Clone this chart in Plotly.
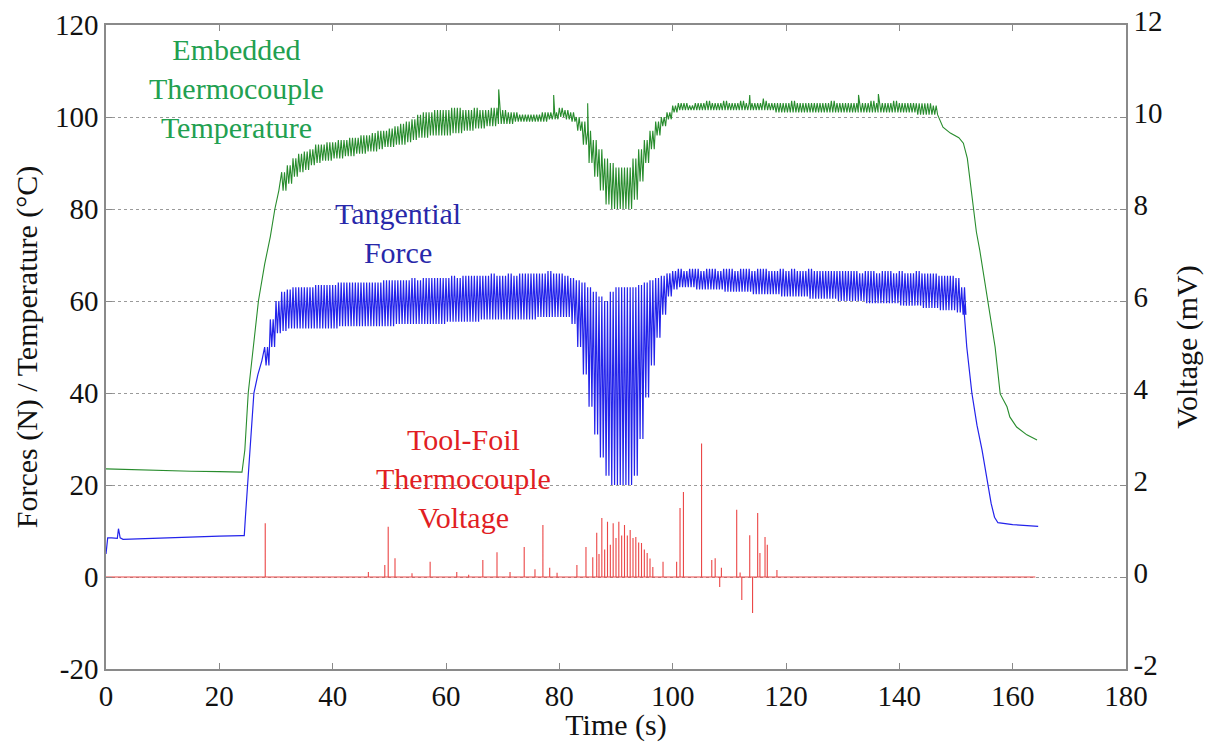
import plotly.graph_objects as go

# ---------------- data ----------------
# Tangential force (N): pre-ramp, oscillating section (per-second envelopes), ramp-down
force_pre_t = [0, 0.3, 1, 2, 2.2, 2.5, 3, 5, 10, 15, 20, 24, 24.4, 24.6, 25.0, 25.5, 26.1, 26.8, 27.5]
force_pre_v = [5, 8.5, 8.5, 8.4, 10.5, 8.5, 8.2, 8.3, 8.5, 8.7, 8.9, 9.0, 9.0, 13, 20, 30, 40, 44, 47]

force_osc_t = list(range(28, 152))
force_hi = [50, 56, 60, 62, 62.5, 63, 63, 63, 63, 63.5, 63.5, 63.5, 63.5,
            64, 64, 64, 64, 64, 64, 64, 64, 64.5, 64.5, 64.5, 64.5, 64.5, 65, 64.5, 65, 65, 65, 65, 65,
            65.5, 65, 65.5, 65.5, 65.5, 65.5, 65.5, 66, 65.5, 65.5, 66, 65.5, 66, 66, 66, 66, 66, 66.5,
            66, 66, 65.5, 65, 64.5, 64, 63, 62, 61, 60, 62, 63, 63, 63, 63, 63.5, 64, 64.5, 65, 65.5, 66,
            66.5, 67, 66.5, 67, 67, 66.5, 67, 67, 66.5, 67, 67, 66.5, 67, 67, 66.5, 67, 67, 66.5, 66.5,
            67, 66.5, 67, 66.5, 66.5, 67, 66.5, 66.5, 66.5, 66.5, 66.5, 66.5, 66.5, 66.5, 66, 66.5, 66.5,
            66, 66.5, 66.5, 66, 66.5, 66, 66, 66.5, 66, 66, 66, 65.5, 65.5, 65.5, 65, 63]
force_lo = [46, 50, 53, 53.5, 54, 54, 54, 54, 54, 54, 54, 54, 54,
            54.5, 54.5, 54.5, 54.5, 54.5, 54.5, 54.5, 54.5, 54.5, 54.5, 55, 55, 55, 55, 55, 55, 55, 55, 55,
            55.5, 55.5, 55.5, 55.5, 55.5, 55.5, 56, 56, 56, 56, 56, 56, 56, 56, 56, 56, 56.5, 56.5, 56.5,
            56.5, 56.5, 56.5, 55, 50, 44, 37, 31, 26, 22, 20, 20, 20, 20, 22, 30, 39, 46, 52, 57, 61,
            62.5, 63, 63, 63, 62.5, 62.5, 62.5, 62.5, 62.5, 62, 62, 62, 62, 62, 61.5, 61.5, 61.5, 61.5,
            61.5, 61, 61, 61, 61, 61, 60.5, 60.5, 60.5, 60.5, 60.5, 60, 60, 60, 60, 60, 59.5, 59.5, 59.5,
            59.5, 59.5, 59.5, 59, 59, 59, 59, 58.5, 58.5, 58.5, 58, 58, 58, 57.5, 57]

force_post_t = [151.3, 151.9, 152.8, 153.7, 154.6, 155.5, 156.2, 156.8, 157.4, 160, 164.5]
force_post_v = [60, 50, 40, 33, 27.6, 21, 16, 13, 11.8, 11.4, 11]

# Embedded thermocouple temperature (deg C)
temp_pre_t = [0, 5, 10, 15, 20, 24, 24.5, 25.1, 26, 26.9, 28, 29, 29.8, 30.5]
temp_pre_v = [23.5, 23.3, 23.2, 23.0, 22.9, 22.8, 27.6, 40, 50, 60, 68, 74, 80, 84]

temp_osc_t = list(range(31, 147))
temp_hi = [88, 89.5, 91, 92, 92.5, 93, 94, 94, 94.5, 94.5, 95, 95, 95.5, 95.5, 96, 96, 96.5, 97, 97,
           97.5, 98, 98.5, 99, 99.5, 100.5, 101, 101, 101.5, 101.5, 101.5, 102, 102, 101.5, 101.5, 102,
           101.5, 101.5, 102, 102, 101.5, 101, 101, 100.5, 100.5, 100.5, 100.5, 101, 101, 101, 102, 101.5,
           101, 100, 99, 97, 95, 93, 91, 90, 89, 89, 89, 91, 93, 95, 97, 99, 100, 101,
           102.5, 103, 103, 102.5, 103, 103, 103.5, 103, 103, 103.5, 103, 103, 103.5, 103, 103, 103, 103.5,
           103, 103, 103, 103, 103.5, 103, 103, 103, 103, 103, 103, 103.5, 103, 103, 103, 103, 103, 103,
           103.5, 103, 103, 103, 103.5, 103, 103, 103, 103, 103, 103, 102.5]
temp_lo = [84, 85.5, 87, 88, 88.5, 89.5, 90, 90.5, 90.5, 91, 91, 91.5, 91.5, 92, 92, 92.5, 92.5, 93, 93.5,
           93.5, 94, 94, 94.5, 95, 95.5, 95.5, 96, 96, 96, 96, 96.5, 96.5, 97, 97, 97.5, 97.5, 98, 98, 98.5,
           98.5, 98.5, 99, 99, 99, 99, 99, 99, 99.5, 99.5, 100, 99.5,
           99, 97, 94, 90, 87, 84, 81, 80, 80, 80, 80, 82, 86, 90, 93, 96, 98, 99.5,
           101, 101.5, 101.5, 101.5, 101.5, 101.5, 101.5, 101.5, 101.5, 101.5, 101.5, 101.5, 101.5, 101.5,
           101.5, 101.5, 101.5, 101.5, 101, 101, 101, 101, 101, 101, 101, 101, 101, 101, 101, 101, 101, 101,
           101, 101, 101, 101, 101, 101, 101, 101, 101, 101, 101, 100.5, 100.5, 100.5, 100.5]
temp_spike_t = [69.3, 79.0, 85.0, 113.6, 116.0, 132.8, 136.3]
temp_spike_v = [106, 104.8, 103, 104.8, 104, 104.8, 105]

temp_post_t = [147.7, 149, 150.5, 151.3, 152, 152.5, 153, 153.6, 154.2, 155, 155.7, 156.3, 156.9,
               157.8, 159, 159.5, 160.7, 162.5, 164.3]
temp_post_v = [97.8, 96.5, 95.5, 94.3, 91, 86, 80.2, 75, 71, 65, 59.6, 55, 50,
               39.8, 37, 34.8, 32.6, 30.9, 29.8]

# Tool-foil thermocouple voltage (mV): spikes on a zero baseline
volt_spike_t = [28.1, 46.3, 49.2, 49.8, 51.0, 54, 57.2, 61.9, 64, 66.5, 69.0, 71.3, 73.8, 75.7, 77.1,
                78.3, 79.6, 83.1, 84.7, 85.9, 86.6, 87.0, 87.5, 88.0, 88.5, 89.0, 89.5, 90.0, 90.5,
                91.0, 91.5, 92.0, 92.5, 93.0, 93.5, 94.0, 94.5, 95.0, 95.5, 96.0, 96.5, 98.3, 100.7,
                101.3, 101.9, 105.1, 106.9, 107.5, 108.3, 108.6, 111.3, 111.9, 112.2, 113.6, 114.1,
                115.0, 115.4, 116.3, 116.7, 118.4]
volt_spike_v = [1.17, 0.11, 0.26, 1.09, 0.41, 0.08, 0.33, 0.11, 0.05, 0.37, 0.54, 0.11, 0.65, 0.17, 1.13,
                0.2, 0.09, 0.26, 0.65, 0.43, 0.96, 0.5, 1.28, 0.6, 1.2, 0.7, 1.17, 0.85, 1.2,
                0.9, 1.13, 0.9, 1.02, 0.85, 0.87, 0.75, 0.74, 0.6, 0.52, 0.4, 0.22, 0.33, 0.33,
                1.5, 1.85, 2.9, 0.37, 0.41, -0.22, 0.2, 1.46, 0.1, -0.5, 0.91, -0.78,
                1.39, 0.52, 0.87, 0.7, 0.15]
volt_end_t = 164

x_ticks = [0, 20, 40, 60, 80, 100, 120, 140, 160, 180]
y_ticks = [-20, 0, 20, 40, 60, 80, 100, 120]
y2_ticks = [-2, 0, 2, 4, 6, 8, 10, 12]


# ---------------- build line paths ----------------
def oscillate(ts, hi, lo):
    # two oscillation cycles per second between the read upper/lower envelopes
    xs, ys = [], []
    for t, h, l in zip(ts, hi, lo):
        for k in (0.0, 0.5):
            xs += [t + k, t + k + 0.25]
            ys += [h, l]
    return xs, ys


fx, fy = oscillate(force_osc_t, force_hi, force_lo)
force_x = force_pre_t + fx + force_post_t
force_y = force_pre_v + fy + force_post_v

tx, ty = oscillate(temp_osc_t, temp_hi, temp_lo)
pts = list(zip(tx, ty)) + list(zip(temp_spike_t, temp_spike_v))
pts.sort(key=lambda p: p[0])
temp_x = temp_pre_t + [p[0] for p in pts] + temp_post_t
temp_y = temp_pre_v + [p[1] for p in pts] + temp_post_v

vx, vy = [0], [0]
for t, v in zip(volt_spike_t, volt_spike_v):
    vx += [t, t, t]
    vy += [0, v, 0]
vx.append(volt_end_t)
vy.append(0)

# ---------------- figure ----------------
FONT = "Liberation Serif, Times New Roman, serif"
fig = go.Figure()
fig.add_trace(go.Scatter(x=force_x, y=force_y, mode="lines",
                         line=dict(color="rgb(35,35,235)", width=1.2), yaxis="y"))
fig.add_trace(go.Scatter(x=temp_x, y=temp_y, mode="lines",
                         line=dict(color="rgb(40,140,45)", width=1.1), yaxis="y"))
fig.add_trace(go.Scatter(x=vx, y=vy, mode="lines",
                         line=dict(color="rgb(235,70,70)", width=1.1), yaxis="y2"))

ann_font = dict(family=FONT, size=30)
fig.add_annotation(x=23.1, y=106.3, xref="x", yref="y", showarrow=False,
                   text="Embedded<br>Thermocouple<br>Temperature",
                   font=dict(ann_font, color="rgb(34,160,80)"), align="center")
fig.add_annotation(x=51.5, y=74.8, xref="x", yref="y", showarrow=False,
                   text="Tangential<br>Force",
                   font=dict(ann_font, color="rgb(40,40,170)"), align="center")
fig.add_annotation(x=63, y=21.5, xref="x", yref="y", showarrow=False,
                   text="Tool-Foil<br>Thermocouple<br>Voltage",
                   font=dict(ann_font, color="rgb(225,30,35)"), align="center")

axis_common = dict(showline=True, linecolor="#8a8a8a", linewidth=1.5, ticks="inside",
                   ticklen=6, tickcolor="#8a8a8a", zeroline=False, automargin=False,
                   tickfont=dict(family=FONT, size=29, color="#111"))

fig.update_layout(
    width=1208, height=742,
    margin=dict(l=106, r=82, t=25, b=73),
    paper_bgcolor="white", plot_bgcolor="white",
    showlegend=False,
    xaxis=dict(axis_common, range=[0, 180], tickvals=x_ticks,
               ticktext=[str(v) for v in x_ticks], mirror="ticks", showgrid=False,
               title=dict(text="Time (s)", font=dict(family=FONT, size=30, color="#111"), standoff=0)),
    yaxis=dict(axis_common, range=[-20, 120], tickvals=y_ticks,
               ticktext=[str(v) for v in y_ticks], showgrid=True,
               gridcolor="#9a9a9a", griddash="dot", gridwidth=1,
               title=dict(text="Forces (N) / Temperature (°C)",
                          font=dict(family=FONT, size=30, color="#111"), standoff=8)),
    yaxis2=dict(axis_common, range=[-2, 12], tickvals=y2_ticks,
                ticktext=[str(v) for v in y2_ticks], overlaying="y", side="right",
                showgrid=False, ticklabelshift=-4,
                title=dict(text="Voltage (mV)", font=dict(family=FONT, size=30, color="#111"),
                           standoff=14)),
)

fig.write_html("out.html")
